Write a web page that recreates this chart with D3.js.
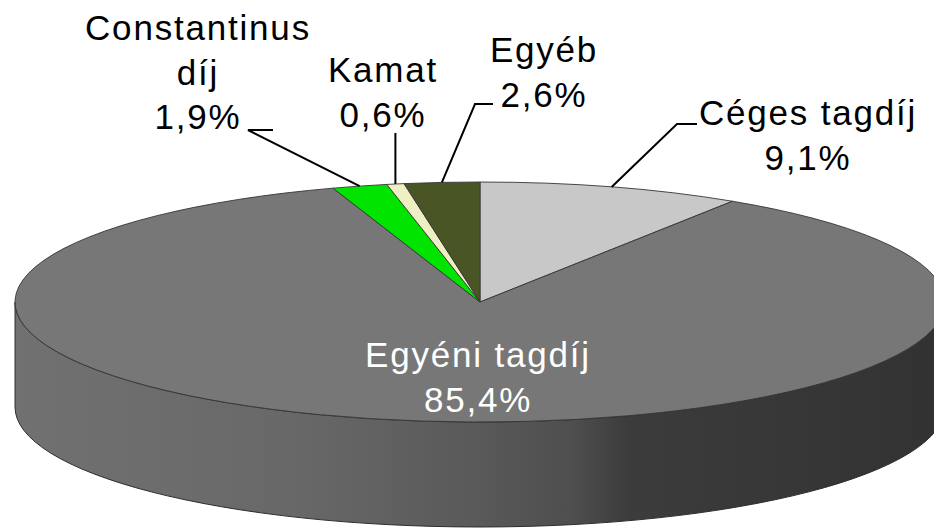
<!DOCTYPE html>
<html>
<head>
<meta charset="utf-8">
<script src="https://cdn.jsdelivr.net/npm/d3@7"></script>
<style>
  html, body { margin: 0; padding: 0; background: #fff; }
  svg { display: block; }
  text { font-family: "Liberation Sans", Arial, sans-serif; }
</style>
</head>
<body>
<svg id="chart" width="934" height="529"></svg>
<script>
// ---- data ----
const categories = ["Céges tagdíj", "Egyéni tagdíj", "Constantinus díj", "Kamat", "Egyéb"];
const values = [9.1, 85.4, 1.9, 0.6, 2.6];
const labelLines = [["Céges tagdíj"], ["Egyéni tagdíj"], ["Constantinus", "díj"], ["Kamat"], ["Egyéb"]];

// ---- style / layout ----
const colorList = ["#c8c8c8", "#777777", "#00e400", "#efefc4", "#4a5526"];
const color = d3.scaleOrdinal(categories, colorList);
const W = 934, H = 529;
const cx = 480, cy = 302, rx = 465, ry = 120, depth = 105;

const svg = d3.select("#chart");
const defs = svg.append("defs");
const grad = defs.append("linearGradient").attr("id", "wallGrad")
  .attr("gradientUnits", "userSpaceOnUse")
  .attr("x1", cx - rx).attr("x2", cx + rx).attr("y1", 0).attr("y2", 0);
[[0, "#717171"], [0.3, "#686868"], [0.5, "#595959"], [0.6, "#4e4e4e"], [0.66, "#3c3c3c"], [1, "#323232"]]
  .forEach(([o, c]) => grad.append("stop").attr("offset", o).attr("stop-color", c));

const pie = d3.pie().sort(null).value(d => d)(values);

// projection of an angle (clockwise from 12 o'clock) onto the tilted ellipse
const px = a => cx + rx * Math.sin(a);
const py = (a, dy = 0) => cy - ry * Math.cos(a) + dy;

function slicePath(a0, a1) {
  const large = (a1 - a0) > Math.PI ? 1 : 0;
  return `M${cx},${cy}L${px(a0)},${py(a0)}A${rx},${ry} 0 ${large} 1 ${px(a1)},${py(a1)}Z`;
}
function wallPath(a0, a1) {
  const s = Math.max(a0, Math.PI / 2), e = Math.min(a1, 3 * Math.PI / 2);
  if (e <= s) return null;
  const large = (e - s) > Math.PI ? 1 : 0;
  return `M${px(s)},${py(s)}A${rx},${ry} 0 ${large} 1 ${px(e)},${py(e)}` +
         `L${px(e)},${py(e, depth)}A${rx},${ry} 0 ${large} 0 ${px(s)},${py(s, depth)}Z`;
}

// walls
pie.forEach((p, i) => {
  const d = wallPath(p.startAngle, p.endAngle);
  if (d) svg.append("path").attr("d", d).attr("fill", "url(#wallGrad)")
    .attr("stroke", "#2e2e2e").attr("stroke-width", 1);
});

// top faces
svg.append("g").selectAll("path").data(pie).join("path")
  .attr("d", p => slicePath(p.startAngle, p.endAngle))
  .attr("fill", (p, i) => color(categories[i]))
  .attr("stroke", "#363636").attr("stroke-width", 0.9).attr("stroke-linejoin", "round");

// labels
const fmt = v => d3.format(".1f")(v).replace(".", ",") + "%";
const labelPos = {
  "Céges tagdíj":     { x: 808, y: 125, elbow: [[697, 124], [677, 124]] },
  "Egyéni tagdíj":    { x: 478, y: 367, white: true },
  "Constantinus díj": { x: 198, y: 40, elbow: [[273, 130], [248, 130]] },
  "Kamat":            { x: 383, y: 82, vertical: 133 },
  "Egyéb":            { x: 544, y: 62, elbow: [[493, 104], [475, 104]] }
};
const lineH = 44.5;

pie.forEach((p, i) => {
  const cat = categories[i];
  const L = labelPos[cat];
  const mid = (p.startAngle + p.endAngle) / 2;
  const tx = px(mid), ty = py(mid);
  if (L.elbow) {
    svg.append("path")
      .attr("d", d3.line()([L.elbow[0], L.elbow[1], [tx, ty]]))
      .attr("fill", "none").attr("stroke", "#000").attr("stroke-width", 2);
  } else if (L.vertical) {
    svg.append("line").attr("x1", tx).attr("x2", tx).attr("y1", L.vertical).attr("y2", ty)
      .attr("stroke", "#000").attr("stroke-width", 2);
  }
  const lines = labelLines[i].concat([fmt(values[i])]);
  const t = svg.append("text").attr("text-anchor", "middle")
    .attr("font-size", 35).attr("letter-spacing", 1.8)
    .attr("fill", L.white ? "#fff" : "#000");
  lines.forEach((s, j) => {
    t.append("tspan").attr("x", L.x).attr("y", L.y + j * lineH).text(s);
  });
});
</script>
</body>
</html>
